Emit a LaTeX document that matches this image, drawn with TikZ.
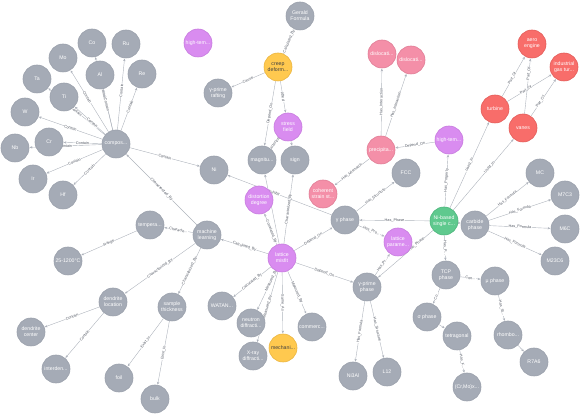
\documentclass[tikz,border=0pt]{standalone}
\usepackage{fontspec}
\setmainfont{Liberation Sans}
\usetikzlibrary{arrows.meta,backgrounds}
\definecolor{ngray}{HTML}{A5ABB6}
\definecolor{ngrayb}{HTML}{9AA0AB}
\definecolor{npurp}{HTML}{D98CF0}
\definecolor{npurpb}{HTML}{C77BDE}
\definecolor{npink}{HTML}{F48FA8}
\definecolor{npinkb}{HTML}{E07D96}
\definecolor{nred}{HTML}{F86D6A}
\definecolor{nredb}{HTML}{E35C59}
\definecolor{ngreen}{HTML}{5FC98E}
\definecolor{ngreenb}{HTML}{4DB57C}
\definecolor{nyell}{HTML}{FFC94F}
\definecolor{nyellb}{HTML}{EBB540}
\definecolor{egray}{HTML}{AEB3BC}
\definecolor{lgray}{HTML}{555B66}
\tikzset{
  base/.style={circle, minimum size=28pt, inner sep=0pt, align=center, text=white,
    font=\fontsize{5.2}{5.8}\selectfont, line width=0.6pt},
  gn/.style={base, fill=ngray, draw=ngrayb},
  pn/.style={base, fill=npurp, draw=npurpb},
  kn/.style={base, fill=npink, draw=npinkb},
  rn/.style={base, fill=nred, draw=nredb},
  grn/.style={base, fill=ngreen, draw=ngreenb},
  yn/.style={base, fill=nyell, draw=nyellb, text=black!75},
  e/.style={draw=egray, line width=0.4pt, -{Stealth[length=2.8pt,width=2.4pt]}, shorten >=0.3pt},
  lab/.style={sloped, font=\fontsize{3.8}{4.2}\selectfont, fill=white, inner sep=0.3pt, text=lgray}
}
\begin{document}
\begin{tikzpicture}[x=1pt,y=-1pt]
\useasboundingbox (0,0) rectangle (582,414);
% nodes
\node[gn] (compos) at (116,144) {compos...};
\node[gn] (Co) at (92,43) {Co};
\node[gn] (Ru) at (126,44) {Ru};
\node[gn] (Mo) at (63,58) {Mo};
\node[gn] (Al) at (100,75) {Al};
\node[gn] (Re) at (142,74) {Re};
\node[gn] (Ta) at (37,79) {Ta};
\node[gn] (Ti) at (64,97) {Ti};
\node[gn] (W) at (25,112) {W};
\node[gn] (Cr) at (49,142) {Cr};
\node[gn] (Nb) at (15,148) {Nb};
\node[gn] (Ir) at (33,179) {Ir};
\node[gn] (Hf) at (63,195) {Hf};
\node[gn] (Ni) at (214,170) {Ni};
\node[pn] (htA) at (198,43) {high-tem...};
\node[yn] (creep) at (278,67) {creep\\deform...};
\node[gn] (gerald) at (300,16) {Gerald\\Formula};
\node[gn] (raft) at (218,93) {γ-prime\\rafting};
\node[pn] (stress) at (288,127) {stress\\field};
\node[gn] (magn) at (262,160) {magnitu...};
\node[gn] (sign) at (295,160) {sign};
\node[pn] (dist) at (259,200) {distortion\\degree};
\node[pn] (misfit) at (282,258) {lattice\\misfit};
\node[kn] (coh) at (323,194) {coherent\\strain st...};
\node[gn] (gph) at (345,220) {γ phase};
\node[gn] (fcc) at (406,173) {FCC};
\node[kn] (precip) at (381,150) {precipita...};
\node[kn] (disl1) at (382,54) {dislocati...};
\node[kn] (disl2) at (411,60) {dislocati...};
\node[pn] (htB) at (449,140) {high-tem...};
\node[pn] (lpar) at (398,242) {lattice\\parame...};
\node[grn] (nib) at (444,221) {Ni-based\\single c...};
\node[gn] (carb) at (475,225) {carbide\\phase};
\node[gn] (MC) at (540,173) {MC};
\node[gn] (M7C3) at (565,195) {M7C3};
\node[gn] (M6C) at (565,229) {M6C};
\node[gn] (M23C6) at (555,261) {M23C6};
\node[rn] (turb) at (495,109) {turbine};
\node[rn] (vanes) at (523,128) {vanes};
\node[rn] (aero) at (532,44) {aero\\engine};
\node[rn] (indg) at (564,67) {industrial\\gas tur...};
\node[gn] (tcp) at (446,275) {TCP\\phase};
\node[gn] (mu) at (495,281) {μ phase};
\node[gn] (sigma) at (427,317) {σ phase};
\node[gn] (tetra) at (457,336) {tetragonal};
\node[gn] (rhombo) at (508,335) {rhombo...};
\node[gn] (r7) at (534,362) {R7A6};
\node[gn] (crmo) at (467,387) {(Cr,Mo)x...};
\node[gn] (gpp) at (367,287) {γ-prime\\phase};
\node[gn] (ni3al) at (353,376) {Ni3Al};
\node[gn] (l12) at (387,372) {L12};
\node[gn] (commerc) at (312,327) {commerc...};
\node[yn] (mech) at (283,348) {mechani...};
\node[gn] (xray) at (253,356) {X-ray\\diffracti...};
\node[gn] (neut) at (251,323) {neutron\\diffracti...};
\node[gn] (watan) at (222,306) {WATAN...};
\node[gn] (ml) at (207,235) {machine\\learning};
\node[gn] (temp) at (150,225) {tempera...};
\node[gn] (range) at (68,261) {25-1200°C};
\node[gn] (dloc) at (113,302) {dendrite\\location};
\node[gn] (samp) at (172,307) {sample\\thickness};
\node[gn] (dcen) at (31,332) {dendrite\\center};
\node[gn] (inter) at (56,369) {interden...};
\node[gn] (foil) at (119,378) {foil};
\node[gn] (bulk) at (155,399) {bulk};
% edges
\begin{pgfonlayer}{background}
\foreach \t/\p in {Co/0.5,Ru/0.55,Mo/0.56,Al/0.62,Re/0.55,Ta/0.5,Ti/0.42,W/0.5,Cr/0.5,Nb/0.5,Ir/0.5,Hf/0.5,Ni/0.5}
  \draw[e] (compos) -- node[lab,pos=\p]{Contain} (\t);
\draw[e] (ml) -- node[lab]{Characterized\_By} (compos);
\draw[e] (ml) -- node[lab]{Characte...} (temp);
\draw[e] (temp) -- node[lab]{Range} (range);
\draw[e] (ml) -- node[lab]{Characterized\_By} (dloc);
\draw[e] (ml) -- node[lab]{Characterized\_By} (samp);
\draw[e] (dloc) -- node[lab]{Contain} (dcen);
\draw[e] (dloc) -- node[lab]{Contain} (inter);
\draw[e] (samp) -- node[lab]{Exist\_In} (foil);
\draw[e] (samp) -- node[lab]{Exist\_In} (bulk);
\draw[e] (misfit) -- node[lab]{Calculated\_By} (ml);
\draw[e] (misfit) -- node[lab]{Calculated\_By} (watan);
\draw[e] (misfit) -- node[lab,pos=0.25]{Measured\_By} (neut);
\draw[e] (misfit) -- node[lab,pos=0.5]{Measured\_By} (xray);
\draw[e] (misfit) -- node[lab]{Same\_As} (mech);
\draw[e] (misfit) -- node[lab]{Measured\_By} (commerc);
\draw[e] (misfit) -- node[lab]{Depend\_On} (gpp);
\draw[e] (misfit) -- node[lab]{Depend\_On} (gph);
\draw[e] (misfit) -- node[lab,pos=0.42]{Correlated\_By} (dist);
\draw[e] (misfit) -- (magn);
\draw[e] (misfit) -- node[lab,pos=0.5]{Characterized\_By} (sign);
\draw[e] (stress) -- node[lab]{Characterized\_By} (magn);
\draw[e] (stress) -- (sign);
\draw[e] (creep) -- node[lab]{Cause} (raft);
\draw[e] (creep) -- node[lab]{Calculated\_By} (gerald);
\draw[e] (creep) -- node[lab]{Depend\_On} (magn);
\draw[e] (creep) -- node[lab]{Affect} (stress);
\draw[e] (gph) -- node[lab,pos=0.55]{Exhibit} (Ni);
\draw[e] (precip) -- node[lab]{Has\_Mismatch} (coh);
\draw[e] (precip) -- node[lab]{Has\_Interaction} (disl1);
\draw[e] (precip) -- node[lab]{Has\_Interaction} (disl2);
\draw[e] (htB) -- node[lab]{Depend\_On} (precip);
\draw[e] (gph) -- node[lab]{Has\_Structure} (fcc);
\draw[e] (nib) -- node[lab]{Has\_Phase} (gph);
\draw[e] (gph) -- node[lab]{Has\_Pro...} (lpar);
\draw[e] (gpp) -- node[lab]{Has\_Pr...} (lpar);
\draw[e] (nib) -- node[lab,pos=0.3]{Has\_Phase} (gpp);
\draw[e] (nib) -- node[lab]{Has\_Property} (htB);
\draw[e] (nib) -- node[lab]{Used\_In} (turb);
\draw[e] (nib) -- node[lab,pos=0.6]{Used\_In} (vanes);
\draw[e] (turb) -- node[lab,pos=0.45]{Part\_Of} (aero);
\draw[e] (turb) -- node[lab,pos=0.42]{Part\_Of} (indg);
\draw[e] (vanes) -- node[lab,pos=0.72]{Part\_Of} (aero);
\draw[e] (vanes) -- node[lab,pos=0.38]{Part\_Of} (indg);
\draw[e] (nib) -- (carb);
\draw[e] (carb) -- node[lab]{Has\_Formula} (MC);
\draw[e] (carb) -- node[lab]{Has\_Formula} (M7C3);
\draw[e] (carb) -- node[lab]{Has\_Formula} (M6C);
\draw[e] (carb) -- node[lab]{Has\_Formula} (M23C6);
\draw[e] (nib) -- node[lab]{Has\_P...} (tcp);
\draw[e] (tcp) -- node[lab]{Con...} (mu);
\draw[e] (tcp) -- node[lab]{Co...} (sigma);
\draw[e] (sigma) -- (tetra);
\draw[e] (tetra) -- node[lab]{Has\_F...} (crmo);
\draw[e] (mu) -- node[lab]{Has\_St...} (rhombo);
\draw[e] (rhombo) -- (r7);
\draw[e] (gpp) -- node[lab]{Has\_Formula} (ni3al);
\draw[e] (gpp) -- node[lab]{Has\_Structure} (l12);
\end{pgfonlayer}
\end{tikzpicture}
\end{document}
